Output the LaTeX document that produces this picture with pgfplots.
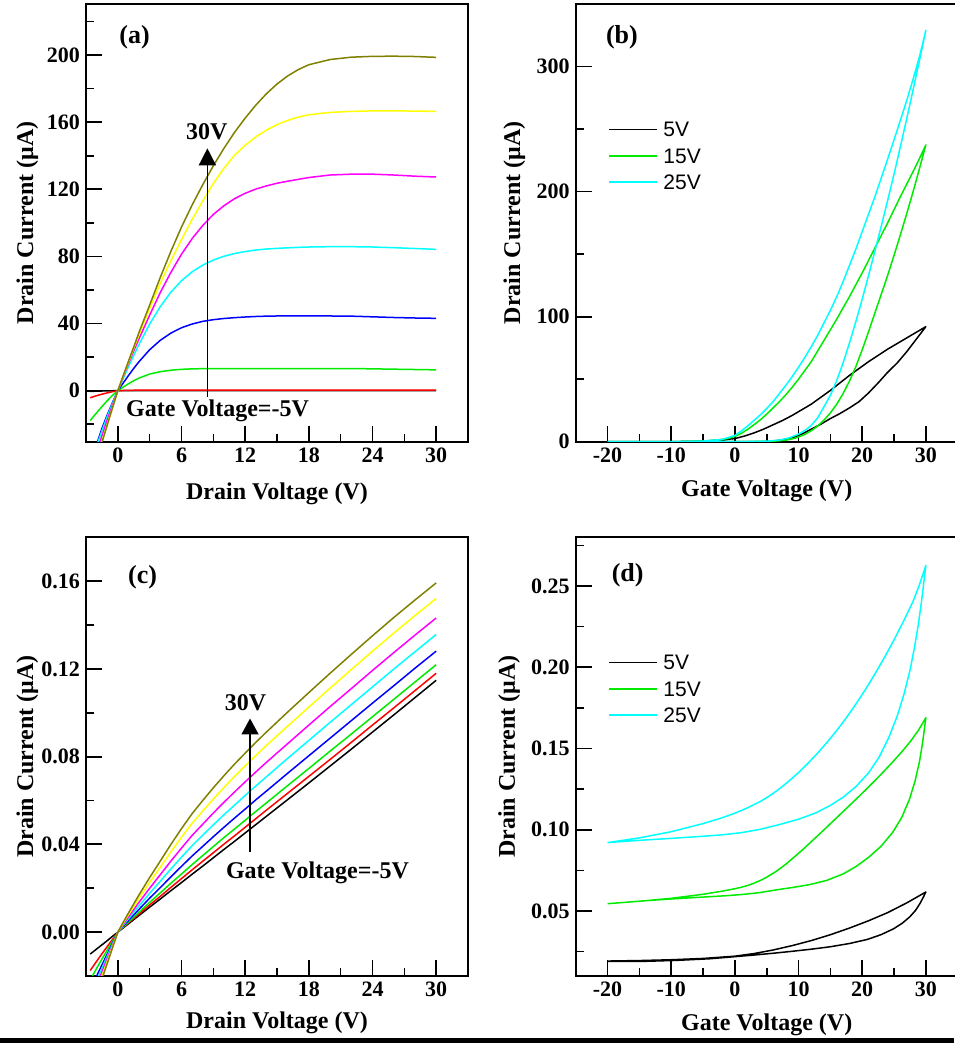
\documentclass[border=0pt]{standalone}
\usepackage{fontspec}
\setmainfont{Liberation Serif}
\newfontfamily\legendfont{Liberation Sans}
\usepackage{pgfplots}
\usepackage{pgfplotstable}
\pgfplotsset{compat=1.18}
\usetikzlibrary{arrows.meta}

\definecolor{cBlk}{RGB}{0,0,0}
\definecolor{cRed}{RGB}{255,0,0}
\definecolor{cGrn}{RGB}{0,235,0}
\definecolor{cBlu}{RGB}{0,0,255}
\definecolor{cCyn}{RGB}{0,255,255}
\definecolor{cMag}{RGB}{255,0,255}
\definecolor{cYel}{RGB}{255,255,0}
\definecolor{cOlv}{RGB}{128,128,0}

\pgfplotstableread{
x     blk   red   grn   blu   cyn   mag   yel   olv
-2.6  -0.45 -4.3  -17.8 -43   -44   -49   -50   -53
-2.5  -0.4  -4.0  -17.0 -41   -42   -47   -48   -51
-2    -0.3  -3.0  -13.2 -32   -33   -37   -39.5 -41
-1.5  -0.2  -2.1  -9.5  -22.5 -24   -27   -30   -31
-1    -0.1  -1.3  -6.0  -14.5 -15.5 -17.5 -20   -20.5
-0.5  -0.05 -0.6  -2.8  -7.0  -7.6  -8.6  -10   -10.2
0     0     0     0     0     0     0     0     0
0.5   0     0.1   2.1   4.5   7.1   8.2   8.6   8.8
1     0     0.2   4.1   9.0   14.2  16.1  17.0  17.5
1.5   0     0.25  5.9   13.3  21.1  23.8  25.3  26.0
2     0     0.3   7.5   17.3  27.6  31.0  33.5  34.8
3     0     0.3   9.9   24.4  39.7  45.0  49.0  51.0
4     0     0.3   11.3  30.0  50.1  58.5  64.0  67.5
5     0     0.3   12.2  34.3  58.7  70.5  77.5  83.0
6     0     0.3   12.7  37.5  65.5  81.3  90.0  97.5
7     0     0.3   13.0  39.7  70.8  90.6  102.0 110.6
8     0     0.3   13.1  41.3  74.8  98.4  113.0 122.7
9     0     0.3   13.2  42.3  77.8  105.0 123.5 134.0
10    0     0.3   13.2  43.0  80.1  110.2 132.5 144.4
11    0     0.3   13.2  43.5  81.7  114.4 140.3 153.9
12    0     0.3   13.2  43.9  82.9  117.6 146.2 162.4
13    0     0.3   13.2  44.2  83.8  120.1 151.2 170.1
14    0     0.3   13.2  44.4  84.4  122.0 155.2 176.9
15    0     0.3   13.2  44.5  84.8  123.6 158.5 182.7
16    0     0.3   13.2  44.6  85.1  124.8 161.0 187.5
17    0     0.3   13.2  44.6  85.4  125.9 163.0 191.3
18    0     0.3   13.2  44.6  85.6  127.0 164.4 194.2
20    0     0.3   13.2  44.5  85.8  128.5 165.8 197.3
22    0     0.3   13.2  44.4  85.8  129.0 166.4 198.7
24    0     0.3   13.0  44.0  85.6  129.0 166.7 199.2
26    0     0.3   12.8  43.6  85.2  128.5 166.7 199.3
28    0     0.3   12.6  43.3  84.7  127.8 166.6 199.1
30    0     0.3   12.4  43.1  84.2  127.3 166.4 198.6
}\tabA

\pgfplotstableread{
x      blk     red     grn     blu     cyn     mag     yel     olv
-2.6  -0.0100 -0.0175 -0.0218 -0.0260 -0.0290 -0.0315 -0.0350 -0.0375
-2    -0.0077 -0.0133 -0.0165 -0.0200 -0.0222 -0.0242 -0.0267 -0.0286
-1.5  -0.0058 -0.0099 -0.0123 -0.0150 -0.0166 -0.0182 -0.0200 -0.0214
-1    -0.0039 -0.0066 -0.0082 -0.0100 -0.0110 -0.0121 -0.0133 -0.0143
-0.5  -0.0019 -0.0033 -0.0041 -0.0050 -0.0055 -0.0060 -0.0066 -0.0071
0      0       0       0       0       0       0       0       0
0.5    0.0019  0.0021  0.0023  0.0027  0.0031  0.0035  0.0040  0.0044
1      0.0038  0.0042  0.0046  0.0053  0.0061  0.0069  0.0079  0.0087
2      0.0076  0.0083  0.0091  0.0104  0.0120  0.0136  0.0155  0.0170
3      0.0114  0.0124  0.0136  0.0155  0.0177  0.0200  0.0227  0.0249
4      0.0151  0.0163  0.0179  0.0203  0.0232  0.0262  0.0296  0.0324
5      0.0189  0.0204  0.0223  0.0252  0.0288  0.0324  0.0366  0.0400
6      0.0226  0.0244  0.0265  0.0300  0.0342  0.0383  0.0433  0.0472
7      0.0264  0.0284  0.0308  0.0347  0.0394  0.0441  0.0496  0.0540
8      0.0301  0.0323  0.0349  0.0391  0.0442  0.0492  0.0552  0.0600
9      0.0339  0.0362  0.0390  0.0435  0.0489  0.0543  0.0607  0.0658
10     0.0377  0.0401  0.0431  0.0478  0.0535  0.0592  0.0659  0.0713
11     0.0414  0.0439  0.0470  0.0520  0.0579  0.0639  0.0710  0.0766
12     0.0452  0.0478  0.0510  0.0561  0.0623  0.0685  0.0758  0.0816
13     0.0490  0.0517  0.0550  0.0603  0.0666  0.0730  0.0805  0.0865
14     0.0528  0.0556  0.0589  0.0643  0.0708  0.0774  0.0851  0.0912
16     0.0604  0.0633  0.0668  0.0724  0.0792  0.0859  0.0939  0.1003
18     0.0680  0.0710  0.0746  0.0804  0.0874  0.0944  0.1026  0.1092
20     0.0757  0.0787  0.0825  0.0884  0.0956  0.1028  0.1112  0.1180
22     0.0834  0.0865  0.0903  0.0964  0.1037  0.1110  0.1197  0.1266
24     0.0912  0.0944  0.0982  0.1044  0.1118  0.1193  0.1281  0.1351
26     0.0990  0.1022  0.1061  0.1123  0.1199  0.1274  0.1363  0.1434
28     0.1069  0.1101  0.1140  0.1203  0.1278  0.1354  0.1443  0.1514
30     0.1148  0.1180  0.1219  0.1281  0.1357  0.1432  0.1521  0.1592
}\tabC

\pgfplotsset{
  panel/.style={
    scale only axis, width=382pt,
    tick align=inside, xtick pos=bottom, ytick pos=left,
    major tick length=16pt, minor tick length=8pt,
    major tick style={line width=1.8pt, black},
    minor tick style={line width=1.6pt, black},
    axis line style={line width=1.8pt},
    xticklabel style={font=\fontsize{22}{22}\selectfont\bfseries, yshift=-2.7pt},
    yticklabel style={font=\fontsize{22}{22}\selectfont\bfseries, xshift=-2.5pt},
    label style={font=\fontsize{24}{24}\selectfont\bfseries},
    /pgf/number format/assume math mode=true,
    every axis plot/.append style={line width=1.5pt, line join=round},
  },
  ivlegend/.style={
    legend cell align=left,
    legend image code/.code={\draw[##1, line width=1.5pt] (0pt,0pt) -- (48.4pt,0pt);},
    legend style={at={(0.0853,#1)}, anchor=north west, draw=none, fill=none,
      inner sep=0pt, outer sep=0pt, row sep=11.3pt, column sep=5.3pt,
      font=\legendfont\fontsize{21}{21}\selectfont,
      nodes={inner sep=0pt, text height=15pt, text depth=0pt}},
  },
}

\newcommand{\pl}[1]{\fontsize{26}{26}\selectfont\bfseries #1}
\newcommand{\an}{\fontsize{24}{24}\selectfont\bfseries}

\begin{document}
\begin{tikzpicture}
% ---------------- (a) ----------------
\begin{axis}[panel, at={(86pt,601.3pt)}, anchor=south west, height=437.7pt,
  xmin=-3, xmax=33, ymin=-30.4, ymax=230.4,
  xtick={0,6,12,18,24,30}, xticklabels={0,6,12,18,24,30}, minor xtick={3,9,15,21,27},
  ytick={0,40,80,120,160,200}, yticklabels={0,40,80,120,160,200},
  minor ytick={-20,20,60,100,140,180,220},
  xlabel={Drain Voltage (V)}, ylabel={Drain Current (μA)},
  xlabel style={at={(axis description cs:0.5,-0.131)}, anchor=base},
  ylabel style={at={(axis description cs:-0.1387,0.5)}, anchor=base},
]
\addplot[cBlk] table[x=x,y=blk] {\tabA};
\addplot[cRed] table[x=x,y=red] {\tabA};
\addplot[cGrn] table[x=x,y=grn] {\tabA};
\addplot[cBlu] table[x=x,y=blu] {\tabA};
\addplot[cCyn] table[x=x,y=cyn] {\tabA};
\addplot[cMag] table[x=x,y=mag] {\tabA};
\addplot[cYel] table[x=x,y=yel] {\tabA};
\addplot[cOlv] table[x=x,y=olv] {\tabA};
\draw[line width=1.6pt, -{Triangle[width=17pt,length=17pt]}] (axis cs:8.44,-3.6) -- (axis cs:8.44,144.4);
\node[font=\an, anchor=center, inner sep=0pt] at (axis cs:8.38,154.3) {30V};
\node[font=\an, anchor=base, inner sep=0pt] at (axis cs:9.4,-15.5) {Gate Voltage=-5V};
\node[anchor=center, inner sep=0pt] at (rel axis cs:0.127,0.9235) {\pl{(a)}};
\end{axis}

% ---------------- (b) ----------------
\begin{axis}[panel, ivlegend=0.7304, at={(575.7pt,601.3pt)}, anchor=south west, height=437.7pt,
  xmin=-25, xmax=35, ymin=0, ymax=350,
  xtick={-20,-10,0,10,20,30}, xticklabels={-20,-10,0,10,20,30}, minor xtick={-15,-5,5,15,25},
  ytick={0,100,200,300}, yticklabels={0,100,200,300}, minor ytick={50,150,250},
  xlabel={Gate Voltage (V)}, ylabel={Drain Current (μA)},
  xlabel style={at={(axis description cs:0.5,-0.1257)}, anchor=base},
  ylabel style={at={(axis description cs:-0.1458,0.5)}, anchor=base},
]
\addplot[cBlk] coordinates {(-20,0) (-10,0) (0,0) (4.5,0) (6,0.5) (7.5,1.5) (9,3) (10.5,6) (12,10) (13.5,14) (15,18.5) (16.5,22.5) (18,27) (19.5,32) (21,39) (22.5,47) (24,55.5) (25.5,63) (27,72) (28.5,82) (30,92)
 (28.5,87.5) (27,83) (25.5,78.5) (24,74) (22.5,69) (21,64) (19.5,58.5) (18,53) (16.5,47) (15,41) (13.5,35.5) (12,30) (10.5,25.5) (9,21) (7.5,17) (6,13.5) (4.5,10) (3,7) (1.5,4.5) (0,2.5) (-2.5,1.2) (-5,0.5) (-10,0) (-20,0)};
\addlegendentry{5V}
\addplot[cGrn] coordinates {(-20,0) (-10,0) (0,0) (6,0.3) (8,1.2) (9.5,2.8) (11,5.8) (12,8.8) (13,12.5) (14,17.3) (15,23) (16,30) (17,38.5) (18,48.5) (19,60) (20,73.5) (21,88) (22,103) (23,118) (24,133) (25,149) (26,165.5) (27,182.5) (28,200) (29,218.5) (30,237.3)
 (29,226.5) (28,216) (27,206) (26,196) (25,185.5) (24,175) (23,165) (22,155) (21,145) (20,135) (19,125.5) (18,116) (17,107) (16,98) (15,89.5) (14,81) (13,72.5) (12,64) (11,57) (10,50) (9,43.5) (8,37.5) (7,32) (6,27) (5,22) (4,17.5) (3,13.5) (2,9.8) (1,6.6) (0,4.2) (-1,2.6) (-3,1.2) (-5,0.5) (-10,0) (-20,0)};
\addlegendentry{15V}
\addplot[cCyn] coordinates {(-20,0) (-10,0) (0,0) (5,0.4) (7,1.3) (8.5,3) (10,6) (11,9) (12,13) (13,19) (14,28) (15,37) (16,49) (17,63) (18,79) (19,96) (20,114) (21,133) (22,152.5) (23,172.5) (24,193) (25,214) (26,236) (27,258.5) (28,281.5) (29,305) (30,329)
 (29,308) (28,290) (27,273) (26,257) (25,241.5) (24,226) (23,211) (22,196) (21,182) (20,168) (19,154) (18,141) (17,128) (16,116) (15,105) (14,95) (13,85) (12,76) (11,67.5) (10,59.5) (9,52) (8,45) (7,38.5) (6,32) (5,26.5) (4,21.5) (3,17) (2,12.5) (1,8.5) (0,5) (-2,1.8) (-5,0.5) (-10,0) (-20,0)};
\addlegendentry{25V}
\node[anchor=center, inner sep=0pt] at (rel axis cs:0.121,0.9235) {\pl{(b)}};
\end{axis}

% ---------------- (c) ----------------
\begin{axis}[panel, at={(86pt,67pt)}, anchor=south west, height=438.7pt,
  xmin=-3, xmax=33, ymin=-0.02, ymax=0.18,
  xtick={0,6,12,18,24,30}, xticklabels={0,6,12,18,24,30}, minor xtick={3,9,15,21,27},
  ytick={0,0.04,0.08,0.12,0.16}, yticklabels={0.00,0.04,0.08,0.12,0.16},
  minor ytick={0.02,0.06,0.10,0.14},
  xlabel={Drain Voltage (V)}, ylabel={Drain Current (μA)},
  xlabel style={at={(axis description cs:0.5,-0.1192)}, anchor=base},
  ylabel style={at={(axis description cs:-0.1387,0.5)}, anchor=base},
]
\addplot[cBlk] table[x=x,y=blk] {\tabC};
\addplot[cRed] table[x=x,y=red] {\tabC};
\addplot[cGrn] table[x=x,y=grn] {\tabC};
\addplot[cBlu] table[x=x,y=blu] {\tabC};
\addplot[cCyn] table[x=x,y=cyn] {\tabC};
\addplot[cMag] table[x=x,y=mag] {\tabC};
\addplot[cYel] table[x=x,y=yel] {\tabC};
\addplot[cOlv] table[x=x,y=olv] {\tabC};
\draw[line width=1.6pt, -{Triangle[width=17pt,length=16pt]}] (axis cs:12.46,0.0365) -- (axis cs:12.46,0.0974);
\node[font=\an, anchor=center, inner sep=0pt] at (axis cs:12.03,0.1045) {30V};
\node[font=\an, anchor=base, inner sep=0pt] at (axis cs:18.81,0.0244) {Gate Voltage=-5V};
\node[anchor=center, inner sep=0pt] at (rel axis cs:0.148,0.908) {\pl{(c)}};
\end{axis}

% ---------------- (d) ----------------
\begin{axis}[panel, ivlegend=0.7317, at={(575.7pt,67pt)}, anchor=south west, height=438.7pt,
  xmin=-25, xmax=35, ymin=0.01, ymax=0.28,
  xtick={-20,-10,0,10,20,30}, xticklabels={-20,-10,0,10,20,30}, minor xtick={-15,-5,5,15,25},
  ytick={0.05,0.10,0.15,0.20,0.25}, yticklabels={0.05,0.10,0.15,0.20,0.25},
  minor ytick={0.025,0.075,0.125,0.175,0.225,0.275},
  xlabel={Gate Voltage (V)}, ylabel={Drain Current (μA)},
  xlabel style={at={(axis description cs:0.5,-0.1231)}, anchor=base},
  ylabel style={at={(axis description cs:-0.159,0.5)}, anchor=base},
]
\addplot[cBlk] coordinates {(-20,0.0192) (-15,0.0195) (-10,0.0200) (-5,0.0208) (0,0.0222) (3,0.0238) (6,0.0260) (9,0.0287) (12,0.0318) (15,0.0354) (18,0.0395) (21,0.0440) (24,0.0490) (27,0.0550) (30,0.0617)
 (29.6,0.0585) (29.1,0.0548) (28.4,0.0505) (27.5,0.0465) (26.3,0.0425) (24.9,0.0390) (23,0.0355) (20.8,0.0325) (18,0.0300) (15,0.0280) (12,0.0265) (9,0.0252) (6,0.0240) (3,0.0229) (0,0.0219) (-4,0.0206) (-9.2,0.0196) (-14.5,0.0190) (-20,0.0190)};
\addlegendentry{5V}
\addplot[cGrn] coordinates {(-20,0.0545) (-15,0.0560) (-10,0.0578) (-5,0.0603) (-2,0.0622) (0,0.0637) (1,0.0646) (2,0.0657) (3,0.0671) (4,0.0688) (5,0.0708) (6.5,0.0744) (8,0.0788) (9.5,0.0838) (11,0.0890) (12.5,0.0945) (14,0.1000) (15.5,0.1056) (17,0.1112) (18.5,0.1168) (20,0.1225) (21.5,0.1283) (23,0.1343) (24.5,0.1405) (26,0.1470) (27.5,0.1540) (28.8,0.1610) (30,0.1690)
 (29.5,0.1540) (29,0.1420) (28.3,0.1300) (27.4,0.1185) (26.2,0.1075) (24.8,0.0985) (23,0.0900) (21,0.0830) (19,0.0773) (17,0.0728) (14.4,0.0688) (11.7,0.0662) (9.1,0.0645) (6.5,0.0630) (3.85,0.0613) (1.25,0.0602) (-1.4,0.0594) (-4,0.0588) (-6.6,0.0582) (-9.2,0.0576) (-11.9,0.0569) (-14.5,0.0562) (-17,0.0554) (-20,0.0545)};
\addlegendentry{15V}
\addplot[cCyn] coordinates {(-20,0.0921) (-15,0.0950) (-10,0.0988) (-5,0.1038) (-2,0.1074) (0,0.1102) (2,0.1135) (4,0.1174) (5.5,0.1210) (7,0.1252) (8.5,0.1300) (10,0.1352) (11.5,0.1410) (13,0.1472) (14.5,0.1539) (16,0.1611) (17.5,0.1689) (19,0.1773) (20.5,0.1863) (22,0.1959) (23.5,0.2061) (25,0.2169) (26.5,0.2284) (28,0.2407) (29,0.2509) (30,0.2627)
 (29.7,0.2530) (29.3,0.2400) (28.8,0.2260) (28.2,0.2120) (27.5,0.1980) (26.6,0.1840) (25.5,0.1700) (24.2,0.1570) (22.7,0.1450) (21,0.1350) (19,0.1265) (17,0.1200) (15,0.1150) (12.8,0.1105) (10,0.1065) (7,0.1032) (4,0.1003) (1,0.0982) (-2,0.0969) (-5,0.0960) (-10,0.0947) (-15,0.0935) (-20,0.0921)};
\addlegendentry{25V}
\node[anchor=center, inner sep=0pt] at (rel axis cs:0.136,0.913) {\pl{(d)}};
\end{axis}

\fill[black] (0pt,0pt) rectangle (954pt,4.7pt);
\pgfresetboundingbox
\useasboundingbox (0pt,0pt) rectangle (954pt,1043pt);
\end{tikzpicture}
\end{document}
